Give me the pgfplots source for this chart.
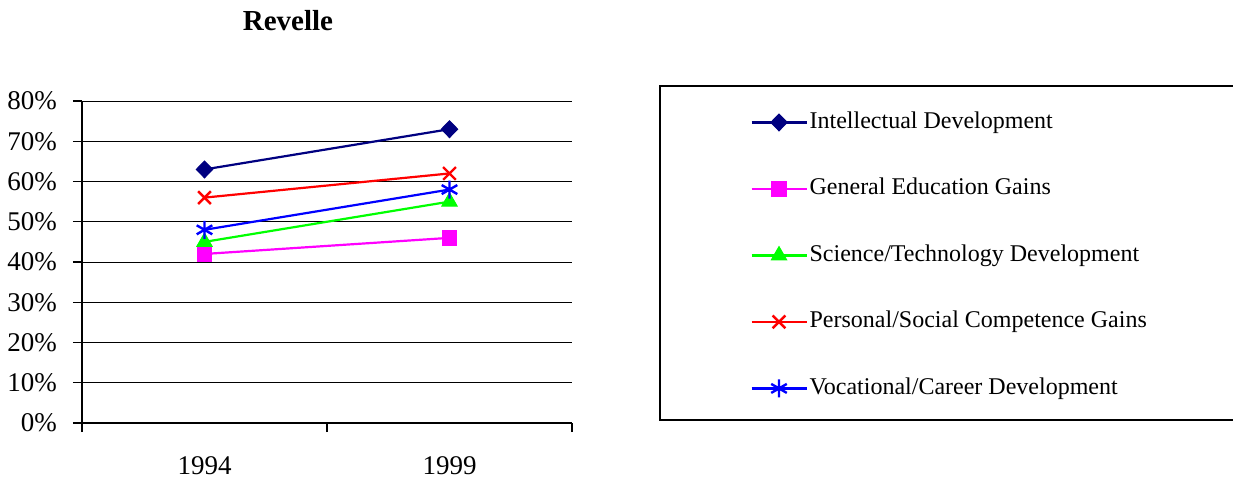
\documentclass[border=0pt]{standalone}
\usepackage{pgfplots}
\pgfplotsset{compat=1.18}
\usepackage{fontspec}
\setmainfont{Liberation Serif}
\usetikzlibrary{plotmarks}
\definecolor{cNavy}{RGB}{0,0,128}
\definecolor{cMag}{RGB}{255,0,255}
\definecolor{cGreen}{RGB}{0,255,0}
\definecolor{cRed}{RGB}{255,0,0}
\definecolor{cBlue}{RGB}{0,0,255}
\begin{document}
\begin{tikzpicture}
\useasboundingbox (0,0) rectangle (616.5pt,-241.5pt);
\node[font=\bfseries\fontsize{14.5}{17}\selectfont] at (144pt,-10.5pt) {Revelle};
\begin{axis}[
  at={(41pt,-211.5pt)}, anchor=south west,
  width=245pt, height=161pt, scale only axis,
  xmin=0.5, xmax=2.5, ymin=0, ymax=80,
  axis x line*=bottom, axis y line*=left,
  axis line style={black, line width=0.6pt},
  xtick={0.5,1.5,2.5}, xticklabels={},
  extra x ticks={1,2}, extra x tick labels={1994,1999},
  extra x tick style={major tick length=0pt, xticklabel style={yshift=-13.5pt}},
  ytick={0,10,20,30,40,50,60,70,80},
  yticklabels={0\%,10\%,20\%,30\%,40\%,50\%,60\%,70\%,80\%},
  tick align=outside, major tick length=4.5pt,
  tick style={black, line width=0.6pt},
  ymajorgrids, grid style={black, line width=0.5pt},
  ticklabel style={font=\fontsize{13.5}{16}\selectfont},
  yticklabel style={xshift=-4.5pt},
  legend style={draw=none, fill=none, at={(1.3633,0.9720)}, anchor=north west,
    inner sep=0pt, row sep=21.25pt, column sep=1pt,
    font=\fontsize{12}{14}\selectfont,
    nodes={inner sep=0pt, text height=9pt, text depth=3pt}},
  legend cell align=left,
  legend image code/.code={\draw[mark repeat=2,mark phase=2] plot coordinates {(0pt,0pt) (13.75pt,0pt) (27.5pt,0pt)};},
  every axis plot/.append style={line width=1.1pt},
]
\addplot[color=cNavy, mark=diamond*, mark size=4.2pt, mark options={fill=cNavy, solid, xscale=1.3, line width=0.5pt}] coordinates {(1,63) (2,73)};
\addlegendentry{Intellectual Development}
\addplot[color=cMag, mark=square*, mark size=3.7pt, mark options={fill=cMag, line width=0.5pt}] coordinates {(1,42) (2,46)};
\addlegendentry{General Education Gains}
\addplot[color=cGreen, mark=triangle*, mark size=4.4pt, mark options={fill=cGreen, line width=0.5pt}] coordinates {(1,45) (2,55)};
\addlegendentry{Science/Technology Development}
\addplot[color=cRed, mark=x, mark size=4.5pt, mark options={line width=1.2pt}] coordinates {(1,56) (2,62)};
\addlegendentry{Personal/Social Competence Gains}
\addplot[color=cBlue, mark=asterisk, mark size=4.5pt, mark options={line width=1.2pt}] coordinates {(1,48) (2,58)};
\addlegendentry{Vocational/Career Development}
\end{axis}
\draw[black, line width=0.6pt] (330pt,-43pt) rectangle (720pt,-210pt);
\end{tikzpicture}
\end{document}
